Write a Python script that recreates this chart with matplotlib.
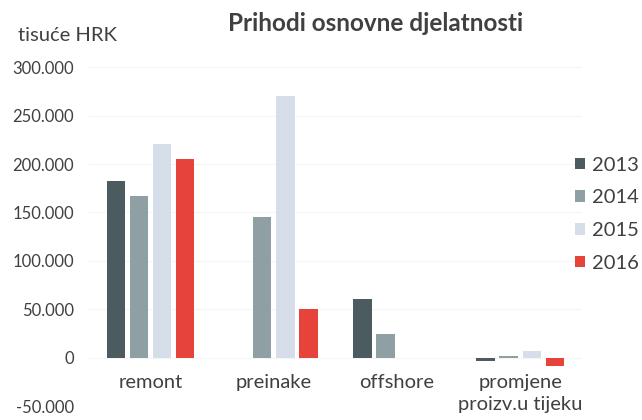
import matplotlib.pyplot as plt
import numpy as np
from matplotlib.ticker import FuncFormatter

# Podaci (tisuće HRK), očitani s grafikona
kategorije = ['remont', 'preinake', 'offshore', 'promjene\nproizv.u tijeku']
godine = ['2013', '2014', '2015', '2016']
v2013 = [183000, 0, 60500, -3000]
v2014 = [167000, 145000, 24000, 1500]
v2015 = [221000, 270500, 0, 7000]
v2016 = [205500, 50000, 0, -8500]
boje = ['#4b5b5f', '#8fa0a4', '#d6dee9', '#e6443b']

plt.rcParams['font.family'] = ['Lato', 'DejaVu Sans']
tekst = '#404040'

fig = plt.figure(figsize=(6.42, 4.2), dpi=100)
ax = fig.add_axes([0.139, 0.033, 0.767, 0.807])

x = np.arange(len(kategorije))
korak = 0.187
sirina = 0.148
for i, (god, vrijednosti) in enumerate(zip(godine, [v2013, v2014, v2015, v2016])):
    ax.bar(x + (i - 1.5) * korak, vrijednosti, width=sirina, color=boje[i], label=god, zorder=3)

ax.set_xlim(-0.5, len(kategorije) - 0.5)
ax.set_ylim(-50000, 300000)
ax.set_yticks(np.arange(-50000, 300001, 50000))
ax.yaxis.set_major_formatter(FuncFormatter(lambda v, p: '0' if v == 0 else f'{v:,.0f}'.replace(',', '.')))
ax.tick_params(axis='y', length=0, pad=11, labelsize=12, labelcolor=tekst)
ax.set_xticks([])
for s in ax.spines.values():
    s.set_visible(False)
ax.grid(axis='y', color='#f5f5f5', linewidth=0.8, zorder=0)

# Oznake kategorija ispod nulte linije
for xi, k in zip(x, kategorije):
    ax.text(xi, -17000, k, ha='center', va='top', fontsize=14.5, color=tekst, linespacing=1.35)

fig.text(0.028, 0.915, 'tisuće HRK', fontsize=14.5, color=tekst, va='center')
fig.text(0.585, 0.945, 'Prihodi osnovne djelatnosti', fontsize=17.5, fontweight='bold',
         color=tekst, ha='center', va='center')

leg = fig.legend(loc='center left', bbox_to_anchor=(0.896, 0.49), frameon=False,
                 fontsize=14.5, handlelength=0.5, handleheight=0.5, handletextpad=0.35,
                 labelspacing=0.78, labelcolor=tekst, borderaxespad=0, borderpad=0)

plt.savefig('out.png', dpi=100)
